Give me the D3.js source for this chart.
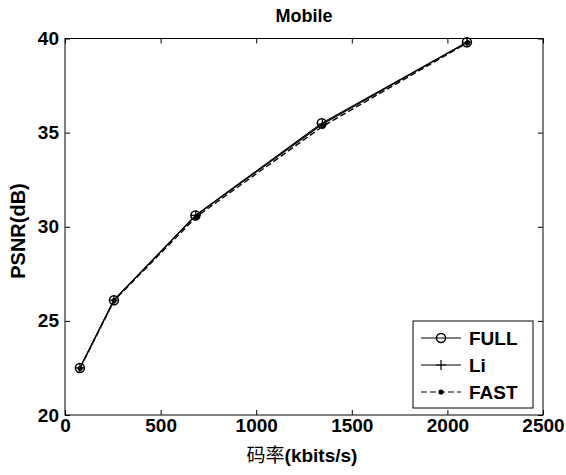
<!DOCTYPE html>
<html>
<head>
<meta charset="utf-8">
<script src="https://cdn.jsdelivr.net/npm/d3@7"></script>
<style>
  html, body { margin: 0; padding: 0; background: #fff; }
  svg { display: block; }
  text { font-family: "Liberation Sans", Arial, sans-serif; fill: #000; }
</style>
</head>
<body>
<svg id="chart" width="566" height="475"></svg>
<script>
// Rate (kbits/s) and PSNR (dB) for the Mobile sequence
const rateFull = [78, 256, 682, 1343, 2102];
const psnrFull = [22.5, 26.1, 30.6, 35.5, 39.8];
const rateLi   = [78, 256, 684, 1346, 2103];
const psnrLi   = [22.5, 26.1, 30.6, 35.45, 39.8];
const rateFast = [79, 257, 690, 1350, 2106];
const psnrFast = [22.48, 26.08, 30.55, 35.35, 39.78];

const xTicks = [0, 500, 1000, 1500, 2000, 2500];
const yTicks = [20, 25, 30, 35, 40];
const seriesNames = ["FULL", "Li", "FAST"];

const svg = d3.select("#chart");
const plotLeft = 65, plotRight = 543, plotTop = 38.5, plotBottom = 415;

const x = d3.scaleLinear().domain([0, 2500]).range([plotLeft, plotRight]);
const y = d3.scaleLinear().domain([20, 40]).range([plotBottom, plotTop]);
const fmt = d3.format("d");

// axes with inward ticks on all four sides
const tickLen = 5;
svg.append("g").attr("transform", `translate(0,${plotBottom})`)
  .call(d3.axisBottom(x).tickValues(xTicks).tickFormat(fmt).tickSizeInner(-tickLen).tickSizeOuter(0).tickPadding(3))
  .call(g => g.select(".domain").remove())
  .call(g => g.selectAll("text").attr("font-size", 19).attr("font-weight", "bold").attr("dy", "0.72em"));
svg.append("g").attr("transform", `translate(0,${plotTop})`)
  .call(d3.axisTop(x).tickValues(xTicks).tickSizeInner(-tickLen).tickSizeOuter(0).tickFormat(""))
  .call(g => g.select(".domain").remove());
svg.append("g").attr("transform", `translate(${plotLeft},0)`)
  .call(d3.axisLeft(y).tickValues(yTicks).tickFormat(fmt).tickSizeInner(-tickLen).tickSizeOuter(0).tickPadding(6))
  .call(g => g.select(".domain").remove())
  .call(g => g.selectAll("text").attr("font-size", 19).attr("font-weight", "bold"));
svg.append("g").attr("transform", `translate(${plotRight},0)`)
  .call(d3.axisRight(y).tickValues(yTicks).tickSizeInner(-tickLen).tickSizeOuter(0).tickFormat(""))
  .call(g => g.select(".domain").remove());
svg.selectAll(".tick line").attr("stroke", "#000");

// frame
svg.append("rect")
  .attr("x", plotLeft).attr("y", plotTop)
  .attr("width", plotRight - plotLeft).attr("height", plotBottom - plotTop)
  .attr("fill", "none").attr("stroke", "#000").attr("stroke-width", 1);

const line = d3.line().x(d => x(d[0])).y(d => y(d[1]));
const full = rateFull.map((r, i) => [r, psnrFull[i]]);
const li   = rateLi.map((r, i) => [r, psnrLi[i]]);
const fast = rateFast.map((r, i) => [r, psnrFast[i]]);

const plot = svg.append("g");
plot.append("path").datum(fast).attr("d", line)
  .attr("fill", "none").attr("stroke", "#000").attr("stroke-width", 1.3).attr("stroke-dasharray", "6,3");
plot.append("path").datum(li).attr("d", line)
  .attr("fill", "none").attr("stroke", "#000").attr("stroke-width", 1.2);
plot.append("path").datum(full).attr("d", line)
  .attr("fill", "none").attr("stroke", "#000").attr("stroke-width", 1.2);

// markers
function drawCircle(g, cx, cy) {
  g.append("circle").attr("cx", cx).attr("cy", cy).attr("r", 4.5)
    .attr("fill", "none").attr("stroke", "#000").attr("stroke-width", 1.5);
}
function drawPlus(g, cx, cy) {
  g.append("path").attr("d", `M${cx - 5},${cy}H${cx + 5}M${cx},${cy - 5}V${cy + 5}`)
    .attr("stroke", "#000").attr("stroke-width", 1.2);
}
function drawDot(g, cx, cy) {
  g.append("circle").attr("cx", cx).attr("cy", cy).attr("r", 2.6).attr("fill", "#000");
}
fast.forEach(d => drawDot(plot, x(d[0]), y(d[1])));
li.forEach(d => drawPlus(plot, x(d[0]), y(d[1])));
full.forEach(d => drawCircle(plot, x(d[0]), y(d[1])));

// title and axis labels
svg.append("text").attr("x", (plotLeft + plotRight) / 2).attr("y", 22)
  .attr("text-anchor", "middle").attr("font-size", 18).attr("font-weight", "bold").text("Mobile");
const xl = svg.append("text").attr("x", (plotLeft + plotRight) / 2 - 2).attr("y", 462)
  .attr("text-anchor", "middle").attr("font-size", 19).attr("font-weight", "bold");
xl.append("tspan").attr("font-family", "'Noto Sans CJK SC', sans-serif").attr("font-weight", "normal").text("码率");
xl.append("tspan").text("(kbits/s)");
svg.append("text").attr("transform", "translate(25,231) rotate(-90)")
  .attr("text-anchor", "middle").attr("font-size", 20).attr("font-weight", "bold").text("PSNR(dB)");

// legend
const lg = svg.append("g");
lg.append("rect").attr("x", 413).attr("y", 321).attr("width", 120).attr("height", 87)
  .attr("fill", "#fff").attr("stroke", "#000").attr("stroke-width", 1);
const rowY = [338, 365, 392];
const markers = [drawCircle, drawPlus, drawDot];
seriesNames.forEach((name, i) => {
  const ly = rowY[i];
  const seg = lg.append("line").attr("x1", 421).attr("x2", 461).attr("y1", ly).attr("y2", ly)
    .attr("stroke", "#000").attr("stroke-width", 1.2);
  if (i === 2) seg.attr("stroke-dasharray", "6,3");
  markers[i](lg, 441, ly);
  lg.append("text").attr("x", 469).attr("y", ly).attr("dy", "0.36em")
    .attr("font-size", 19).attr("font-weight", "bold").text(name);
});
</script>
</body>
</html>
